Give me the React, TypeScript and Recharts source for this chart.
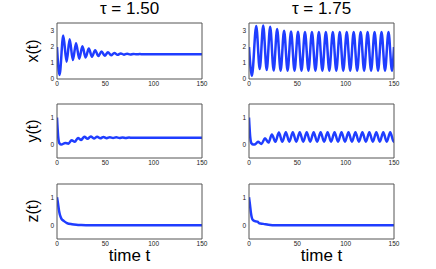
import { LineChart, Line, XAxis, YAxis } from 'recharts';

// nilai (puncak dan lembah osilasi)
const timeTicks = [0, 50, 100, 150];
const xTicks = [0, 1, 2, 3];
const yzTicks = [0, 1];
const tauLabels = ['τ = 1.50', 'τ = 1.75'];
const rowLabels = ['x(t)', 'y(t)', 'z(t)'];

const x150T = [0, 2.6, 6.5, 9.9, 13.1, 16.4, 19.7, 23.0, 26.3, 29.6, 32.9, 36.2, 39.5, 42.8, 46.1, 49.4, 52.7, 56.0, 59.3, 62.6, 65.9, 69.2, 72.5, 75.8, 79.1, 82.4, 85.7, 89.0, 95, 150];
const x150V = [2.0, 0.25, 2.72, 1.08, 2.48, 1.18, 2.24, 1.27, 2.04, 1.34, 1.9, 1.39, 1.8, 1.43, 1.72, 1.46, 1.67, 1.49, 1.63, 1.51, 1.6, 1.52, 1.58, 1.53, 1.57, 1.54, 1.56, 1.545, 1.55, 1.55];

const x175T = [0, 3.0, 7.5, 11.1, 14.7, 18.3, 21.9, 25.5, 29.1, 32.7, 36.3, 39.9, 43.5, 47.1, 50.7, 54.3, 57.9, 61.5, 65.1, 68.7, 72.3, 75.9, 79.5, 83.1, 86.7, 90.3, 93.9, 97.5, 101.1, 104.7, 108.3, 111.9, 115.5, 119.1, 122.7, 126.3, 129.9, 133.5, 137.1, 140.7, 144.3, 147.9, 150];
const x175V = [2.0, 0.2, 3.32, 0.62, 3.34, 0.56, 3.26, 0.53, 3.12, 0.52, 3.02, 0.52, 2.97, 0.52, 2.95, 0.52, 2.94, 0.52, 2.94, 0.52, 2.94, 0.52, 2.94, 0.52, 2.94, 0.52, 2.94, 0.52, 2.94, 0.52, 2.94, 0.52, 2.94, 0.52, 2.94, 0.52, 2.94, 0.52, 2.94, 0.52, 2.94, 0.52, 2.0];

const y150T = [0, 1.2, 2.5, 4.5, 8.5, 11.8, 15.1, 18.4, 21.7, 25.0, 28.3, 31.6, 34.9, 38.2, 41.5, 44.8, 48.1, 51.4, 54.7, 58.0, 61.3, 64.6, 67.9, 71.2, 74.5, 77.8, 81.1, 84.4, 90, 150];
const y150V = [1.0, 0.3, 0.05, 0.0, 0.06, 0.03, 0.16, 0.1, 0.24, 0.17, 0.29, 0.21, 0.3, 0.22, 0.29, 0.23, 0.28, 0.235, 0.27, 0.24, 0.265, 0.243, 0.26, 0.245, 0.257, 0.248, 0.254, 0.249, 0.25, 0.25];

const y175T = [0, 1.2, 2.5, 4.5, 6.5, 9.3, 12.9, 16.5, 20.1, 23.7, 27.3, 30.9, 34.5, 38.1, 41.7, 45.3, 48.9, 52.5, 56.1, 59.7, 63.3, 66.9, 70.5, 74.1, 77.7, 81.3, 84.9, 88.5, 92.1, 95.7, 99.3, 102.9, 106.5, 110.1, 113.7, 117.3, 120.9, 124.5, 128.1, 131.7, 135.3, 138.9, 142.5, 146.1, 149.7, 150];
const y175V = [1.0, 0.3, 0.05, 0.0, 0.01, 0.1, 0.02, 0.23, 0.07, 0.37, 0.1, 0.44, 0.1, 0.45, 0.1, 0.45, 0.1, 0.45, 0.1, 0.45, 0.1, 0.45, 0.1, 0.45, 0.1, 0.45, 0.1, 0.45, 0.1, 0.45, 0.1, 0.45, 0.1, 0.45, 0.1, 0.45, 0.1, 0.45, 0.1, 0.45, 0.1, 0.45, 0.1, 0.45, 0.1, 0.1];

const z150T = [0, 1, 2, 3, 4.5, 6.9, 10.3, 15.5, 20, 25, 30, 150];
const z150V = [1.02, 0.8, 0.55, 0.38, 0.24, 0.16, 0.08, 0.035, 0.015, 0.005, 0, 0];

const z175T = [0, 1, 2, 3.8, 6.1, 8.9, 10.6, 14.8, 20, 28, 150];
const z175V = [1.02, 0.75, 0.45, 0.2, 0.15, 0.13, 0.07, 0.05, 0.02, 0, 0];

const BLUE = '#1f3dff';
const BOX = '#555555';
const TXT = '#222222';

const toRows = (t: number[], v: number[]) => t.map((tt, i) => ({ t: tt, v: v[i] }));

type PanelProps = {
  rows: { t: number; v: number }[];
  left: number;
  top: number;
  h: number;
  domain: [number, number];
  ticks: number[];
};

function Panel({ rows, left, top, h, domain, ticks }: PanelProps) {
  const w = 145;
  return (
    <div style={{ position: 'absolute', left: left - 20, top: top - 4 }}>
      <LineChart width={20 + w + 8} height={4 + h + 12} data={rows} margin={{ top: 4, right: 8, bottom: 0, left: 0 }}>
        <XAxis xAxisId="b" dataKey="t" type="number" domain={[0, 150]} ticks={timeTicks} allowDataOverflow height={12}
          tickSize={0} tickMargin={2} tickLine={false} axisLine={{ stroke: BOX }} tick={{ fontSize: 6.5, fill: TXT }} />
        <XAxis xAxisId="bi" type="number" domain={[0, 150]} ticks={timeTicks} allowDataOverflow mirror
          tick={false} axisLine={false} tickSize={2} tickLine={{ stroke: BOX }} />
        <XAxis xAxisId="t" orientation="top" type="number" domain={[0, 150]} ticks={timeTicks} allowDataOverflow mirror
          tick={false} axisLine={{ stroke: BOX }} tickSize={2} tickLine={{ stroke: BOX }} />
        <YAxis yAxisId="l" type="number" domain={domain} ticks={ticks} allowDataOverflow width={20}
          tickSize={0} tickMargin={3} tickLine={false} axisLine={{ stroke: BOX }} tick={{ fontSize: 6.5, fill: TXT }} />
        <YAxis yAxisId="li" type="number" domain={domain} ticks={ticks} allowDataOverflow mirror
          tick={false} axisLine={false} tickSize={2} tickLine={{ stroke: BOX }} />
        <YAxis yAxisId="r" orientation="right" type="number" domain={domain} ticks={ticks} allowDataOverflow mirror
          tick={false} axisLine={{ stroke: BOX }} tickSize={2} tickLine={{ stroke: BOX }} />
        <Line xAxisId="b" yAxisId="l" type="monotone" dataKey="v" stroke={BLUE} strokeWidth={2.5} dot={false} isAnimationActive={false} />
      </LineChart>
    </div>
  );
}

const colLeft = [57, 249];
const rowTop = [23, 104, 184];
const rowH = [56, 54, 55];
const colCenter = [129.5, 321.5];
const rowCenter = [51, 131, 211];

export default function App() {
  const sets = [
    [toRows(x150T, x150V), toRows(x175T, x175V)],
    [toRows(y150T, y150V), toRows(y175T, y175V)],
    [toRows(z150T, z150V), toRows(z175T, z175V)],
  ];
  return (
    <div style={{ position: 'absolute', left: 0, top: 0, width: 436, height: 269, background: '#fff', fontFamily: '"Liberation Sans", Arial, sans-serif' }}>
      {sets.map((row, r) =>
        row.map((rows, c) => (
          <Panel key={`${r}-${c}`} rows={rows} left={colLeft[c]} top={rowTop[r]} h={rowH[r]}
            domain={r === 0 ? [0, 3.5] : [-0.5, 1.5]} ticks={r === 0 ? xTicks : yzTicks} />
        ))
      )}
      <svg width={436} height={269} style={{ position: 'absolute', left: 0, top: 0, pointerEvents: 'none' }}>
        {tauLabels.map((s, c) => (
          <text key={s} x={colCenter[c]} y={14} textAnchor="middle" fontSize={17} fill="#000">{s}</text>
        ))}
        {rowLabels.map((s, r) => (
          <text key={s} transform={`translate(38, ${rowCenter[r]}) rotate(-90)`} textAnchor="middle" fontSize={16} fill="#000">{s}</text>
        ))}
        {colCenter.map((cx) => (
          <text key={cx} x={cx} y={261} textAnchor="middle" fontSize={17} fill="#000">time t</text>
        ))}
      </svg>
    </div>
  );
}
